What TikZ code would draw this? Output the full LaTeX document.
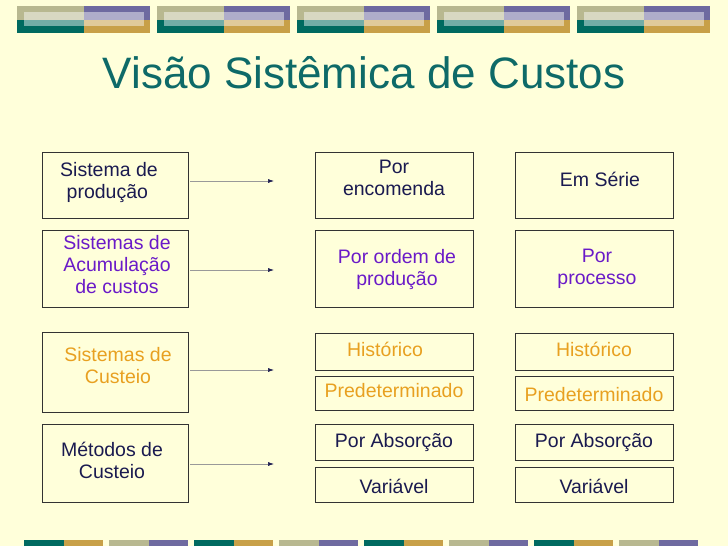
\documentclass[tikz,border=0pt]{standalone}
\usepackage{fontspec}
\setmainfont{Liberation Sans}
\usetikzlibrary{arrows.meta}
\definecolor{bg}{HTML}{FFFFDA}
\definecolor{tgray}{HTML}{B8B890}
\definecolor{tpurp}{HTML}{6E6AA0}
\definecolor{tteal}{HTML}{006A60}
\definecolor{tgold}{HTML}{C8A048}
\definecolor{navyt}{HTML}{1A1A50}
\definecolor{purpt}{HTML}{6A1AC8}
\definecolor{orant}{HTML}{E8A020}
\definecolor{titlec}{HTML}{0E6A68}
\begin{document}
\begin{tikzpicture}[x=1pt,y=-1pt,
  bx/.style={draw=black!80,line width=0.6pt,fill=bg},
  tx/.style={font=\fontsize{19.5}{22}\selectfont,align=center,inner sep=0pt},
  navy/.style={text=navyt},
  purp/.style={text=purpt},
  oran/.style={text=orant},
  arr/.style={draw=gray!80,line width=0.6pt,-{Latex[length=6pt,width=4pt,fill=navyt,color=navyt]}}]
\fill[bg] (0,0) rectangle (728,546);
\useasboundingbox (0,0) rectangle (728,546);
\foreach \x in {17,157,297,437,577}{
  \fill[tgray] (\x,6) rectangle ++(67,13.5);
  \fill[tpurp] (\x+67,6) rectangle ++(66,13.5);
  \fill[tteal] (\x,19.5) rectangle ++(67,13.5);
  \fill[tgold] (\x+67,19.5) rectangle ++(66,13.5);
  \fill[white,opacity=0.45] (\x+7,12) rectangle ++(120,14);
}
\foreach \x/\i in {24/0,109/1,194/0,279/1,364/0,449/1,534/0,619/1}{
  \ifnum\i=0
    \fill[tteal] (\x,540) rectangle ++(39.5,6);
    \fill[tgold] (\x+39.5,540) rectangle ++(39.5,6);
  \else
    \fill[tgray] (\x,540) rectangle ++(39.5,6);
    \fill[tpurp] (\x+39.5,540) rectangle ++(39.5,6);
  \fi
}
\node[text=titlec,font=\fontsize{44}{50}\selectfont] (title) at (364,73) {Visão Sistêmica de Custos};
\path[bx] (42,152) rectangle (188,218);
\path[bx] (42,230) rectangle (188,307);
\path[bx] (42,332) rectangle (188,412);
\path[bx] (42,424) rectangle (188,502);
\node[tx,navy] (a1) at (109,182) {Sistema de\\produção\,};
\node[tx,purp] (a2) at (117,265) {Sistemas de\\Acumulação\\ de custos};
\node[tx,oran] (a3) at (118,366) {Sistemas de\\Custeio};
\node[tx,navy] (a4) at (112,460) {Métodos de\\Custeio};
\foreach \x in {315,515}{
  \path[bx] (\x,152) rectangle ++(158,66);
  \path[bx] (\x,230) rectangle ++(158,77);
  \path[bx] (\x,333) rectangle ++(158,37);
  \path[bx] (\x,376) rectangle ++(158,34);
  \path[bx] (\x,424) rectangle ++(158,36);
  \path[bx] (\x,467) rectangle ++(158,35);
}
\node[tx,navy] (c1) at (394,178) {Por\\encomenda};
\node[tx,purp] (c2) at (397,269) {Por ordem de\\produção};
\node[tx,oran] (c3) at (385,349) {Histórico};
\node[tx,oran] (c4) at (394,391) {Predeterminado};
\node[tx,navy] (c5) at (394,442) {Por Absorção};
\node[tx,navy] (c6) at (394,486) {Variável};
\node[tx,navy] (d1) at (600,179) {Em Série};
\node[tx,purp] (d2) at (597,269) {Por\\processo};
\node[tx,oran] (d3) at (594,349) {Histórico};
\node[tx,oran] (d4) at (594,395) {Predeterminado};
\node[tx,navy] (d5) at (594,442) {Por Absorção};
\node[tx,navy] (d6) at (594,486) {Variável};
\foreach \y/\n in {181/1,270/2,370/3,464/4}{
  \coordinate (s\n) at (190,\y);
  \coordinate (e\n) at (274,\y);
  \draw[arr] (s\n) -- (e\n);
}
\end{tikzpicture}
\end{document}
